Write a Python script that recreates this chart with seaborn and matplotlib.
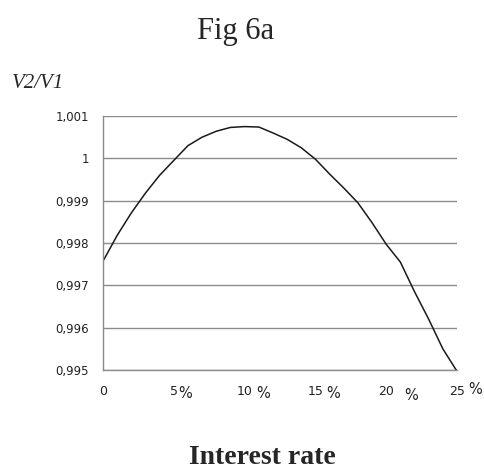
import matplotlib
matplotlib.use("Agg")
import matplotlib.pyplot as plt
import numpy as np
import pandas as pd
import seaborn as sns

# interest rate in %, and ratio V2/V1
rate = [0, 1, 2, 3, 4, 5, 6, 7, 8, 9, 10, 11, 12,
        13, 14, 15, 16, 17, 18, 19, 20, 21, 22, 23, 24, 25]
ratio = [0.99757, 0.99818, 0.99871, 0.99918, 0.99960, 0.99995, 1.00030,
         1.00050, 1.00064, 1.00073, 1.00075, 1.00074, 1.00060, 1.00045,
         1.00025, 0.99998, 0.99963, 0.99930, 0.99895, 0.99848, 0.99797,
         0.99755, 0.99685, 0.99620, 0.99550, 0.99497]

x_ticks = [0, 5, 10, 15, 20, 25]
y_ticks = [0.995, 0.996, 0.997, 0.998, 0.999, 1.0, 1.001]
y_labels = ["0,995", "0,996", "0,997", "0,998", "0,999", "1", "1,001"]

df = pd.DataFrame({"rate": rate, "ratio": ratio})

sns.set_style("white")
plt.rcParams["font.family"] = ["DejaVu Sans"]

fig = plt.figure(figsize=(4.85, 4.71), dpi=100)
ax = fig.add_axes([103 / 485, 1 - 370 / 471, 354 / 485, 254 / 471])

sns.lineplot(data=df, x="rate", y="ratio", ax=ax, color="#1a1a1a", linewidth=1.1)

ax.set_xlim(0, 25)
ax.set_ylim(0.995, 1.001)
ax.set_xticks(x_ticks)
ax.set_xticklabels([str(t) for t in x_ticks])
ax.set_yticks(y_ticks)
ax.set_yticklabels(y_labels)
ax.yaxis.grid(True, color="#8c8c8c", linewidth=1.0)
ax.set_axisbelow(True)
for side in ["top", "right"]:
    ax.spines[side].set_visible(False)
for side in ["left", "bottom"]:
    ax.spines[side].set_color("#8c8c8c")
    ax.spines[side].set_linewidth(1.0)
ax.tick_params(axis="both", direction="out", length=4, width=1.0,
               color="#8c8c8c", labelsize=8.5, labelcolor="#222222")
ax.tick_params(axis="x", labelsize=9, pad=7)
ax.tick_params(axis="y", pad=6)
ax.set_xlabel("")
ax.set_ylabel("")

# stray percent signs placed beside the tick numbers
pct = [(178, 393), (256, 393), (326, 393), (404, 396), (468, 389)]
for px, py in pct:
    fig.text(px / 485, 1 - py / 471, "%", ha="left", va="center",
             fontsize=10.5, color="#222222")

fig.text(236 / 485, 1 - 32 / 471, "Fig 6a", ha="center", va="center",
         fontsize=22, family="Liberation Serif")
fig.text(12 / 485, 1 - 83 / 471, "V2/V1", ha="left", va="center",
         fontsize=15, family="Liberation Serif", style="italic")
fig.text(262 / 485, 1 - 458 / 471, "Interest rate", ha="center", va="center",
         fontsize=20, family="Liberation Serif", weight="bold")

fig.savefig("out.png", dpi=100, facecolor="white")
